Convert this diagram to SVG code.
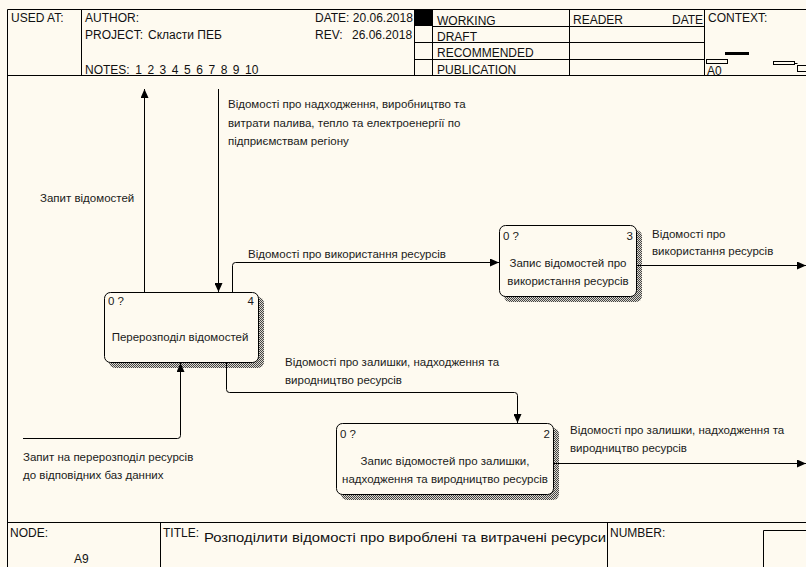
<svg xmlns="http://www.w3.org/2000/svg" width="806" height="567" viewBox="0 0 806 567">
  <style>
    .t { font-family: "Liberation Sans", Arial, sans-serif; font-size: 11.5px; fill: #1a1a1a; }
    .h { font-family: "Liberation Sans", Arial, sans-serif; font-size: 12px; fill: #111; }
    .ln { stroke: #000; stroke-width: 1; fill: none; }
    .box { fill: #fefaf0; stroke: #000; stroke-width: 1; }
    .sh { fill: url(#hatch); }
    .c { stroke: #000; stroke-width: 1; fill: none; }
  </style>
  <defs>
    <pattern id="hatch" width="2" height="2" patternUnits="userSpaceOnUse">
      <rect width="2" height="2" fill="#ddd9d0"/>
      <rect width="1" height="1" fill="#444"/>
      <rect x="1" y="1" width="1" height="1" fill="#444"/>
    </pattern>
    <marker id="arr" markerWidth="10" markerHeight="8" refX="9" refY="4" orient="auto" markerUnits="userSpaceOnUse">
      <path d="M0,0 L9,4 L0,8 Z" fill="#000"/>
    </marker>
  </defs>

  <rect width="806" height="567" fill="#fefaf0"/>

  <!-- frame -->
  <g id="frame">
    <path class="ln" d="M7.5,9.5 H806 M7.5,9.5 V567 M7.5,75.5 H806 M7.5,522.5 H806"/>
    <!-- header columns -->
    <path class="ln" d="M81.5,9.5 V75.5 M414.5,9.5 V75.5 M432.5,9.5 V75.5 M569.5,9.5 V75.5 M704.5,9.5 V75.5"/>
    <path class="ln" d="M432.5,26.5 H704.5 M414.5,42.5 H704.5 M414.5,59.5 H704.5"/>
    <rect x="415" y="10" width="17" height="16" fill="#000"/>
    <text class="h" x="11" y="22">USED AT:</text>
    <text class="h" x="85" y="22">AUTHOR:</text>
    <text class="h" x="85" y="39">PROJECT:</text>
    <text class="h" x="148" y="39">Скласти ПЕБ</text>
    <text class="h" x="85" y="74" word-spacing="2.2">NOTES: 1 2 3 4 5 6 7 8 9 10</text>
    <text class="h" x="315" y="22">DATE: 20.06.2018</text>
    <text class="h" x="315" y="39">REV:</text>
    <text class="h" x="352" y="39">26.06.2018</text>
    <text class="h" x="437" y="25">WORKING</text>
    <text class="h" x="437" y="41">DRAFT</text>
    <text class="h" x="437" y="57">RECOMMENDED</text>
    <text class="h" x="437" y="74">PUBLICATION</text>
    <text class="h" x="573" y="24">READER</text>
    <text class="h" x="672" y="24">DATE</text>
    <text class="h" x="708" y="22">CONTEXT:</text>
    <!-- context thumbnail -->
    <rect x="725" y="52" width="24" height="3" fill="#000"/>
    <rect x="706.5" y="59.5" width="21" height="4" fill="none" stroke="#000"/>
    <rect x="773.5" y="61.5" width="21" height="3" fill="none" stroke="#000"/>
    <path class="ln" d="M794.5,63.5 H797.5"/>
    <rect x="797.5" y="65.5" width="10" height="6" fill="none" stroke="#000"/>
    <text class="h" x="707" y="75" font-size="11">A0</text>
    <!-- footer -->
    <path class="ln" d="M160.5,522.5 V567 M607.5,522.5 V567"/>
    <path class="ln" d="M763.5,567 V530.5 H806"/>
    <text class="h" x="10" y="537" font-size="11">NODE:</text>
    <text class="h" x="74" y="563" font-size="14">A9</text>
    <text class="h" x="163" y="537" font-size="11">TITLE:</text>
    <text class="h" x="204" y="542" font-size="16" textLength="402" lengthAdjust="spacingAndGlyphs">Розподілити відомості про  вироблені та витрачені ресурси</text>
    <text class="h" x="610" y="537" font-size="11">NUMBER:</text>
  </g>

  <!-- node 4 -->
  <g id="node4">
    <rect class="sh" x="109" y="297" width="155" height="71" rx="6"/>
    <rect class="box" x="104.5" y="292.5" width="154" height="70" rx="6"/>
    <text class="t" x="108" y="305">0 ?</text>
    <text class="t" x="254" y="305" text-anchor="end">4</text>
    <text class="t" x="180" y="341" text-anchor="middle">Перерозподіл відомостей</text>
  </g>

  <!-- node 3 -->
  <g id="node3">
    <rect class="sh" x="504" y="230" width="138" height="72" rx="6"/>
    <rect class="box" x="499.5" y="225.5" width="137" height="71" rx="6"/>
    <text class="t" x="503" y="240">0 ?</text>
    <text class="t" x="633" y="240" text-anchor="end">3</text>
    <text class="t" x="568" y="267" text-anchor="middle">Запис відомостей про</text>
    <text class="t" x="568" y="285" text-anchor="middle">використання ресурсів</text>
  </g>

  <!-- node 2 -->
  <g id="node2">
    <rect class="sh" x="341" y="428" width="218" height="72" rx="6"/>
    <rect class="box" x="336.5" y="423.5" width="217" height="71" rx="6"/>
    <text class="t" x="340" y="438">0 ?</text>
    <text class="t" x="550" y="438" text-anchor="end">2</text>
    <text class="t" x="445" y="465" text-anchor="middle">Запис відомостей про залишки,</text>
    <text class="t" x="445" y="483" text-anchor="middle">надходження та виродництво ресурсів</text>
  </g>

  <!-- connectors -->
  <g id="connectors">
    <path class="c" d="M144.5,292 V89" marker-end="url(#arr)"/>
    <text class="t" x="40" y="202">Запит відомостей</text>

    <path class="c" d="M218.5,89 V292" marker-end="url(#arr)" stroke="#444"/>
    <text class="t" x="228" y="108">Відомості про надходження, виробництво та</text>
    <text class="t" x="228" y="127">витрати палива, тепло та електроенергії по</text>
    <text class="t" x="228" y="145">підприємствам регіону</text>

    <path class="c" d="M232.5,292 V265.5 Q232.5,262.5 235.5,262.5 H499" marker-end="url(#arr)"/>
    <text class="t" x="248" y="258">Відомості про використання ресурсів</text>

    <path class="c" d="M637,265.5 H806" marker-end="url(#arr)"/>
    <text class="t" x="652" y="238">Відомості про</text>
    <text class="t" x="652" y="255">використання ресурсів</text>

    <path class="c" d="M226.5,363 V389.5 Q226.5,392.5 229.5,392.5 H514.5 Q517.5,392.5 517.5,395.5 V423" marker-end="url(#arr)"/>
    <text class="t" x="285" y="366">Відомості про залишки, надходження та</text>
    <text class="t" x="285" y="384">виродництво ресурсів</text>

    <path class="c" d="M23,438.5 H177.5 Q180.5,438.5 180.5,435.5 V363" marker-end="url(#arr)"/>
    <text class="t" x="23" y="461">Запит на перерозподіл ресурсів</text>
    <text class="t" x="23" y="479">до відповідних баз данних</text>

    <path class="c" d="M554,463.5 H806" marker-end="url(#arr)"/>
    <text class="t" x="570" y="434">Відомості про залишки, надходження та</text>
    <text class="t" x="570" y="452">виродництво ресурсів</text>
  </g>
</svg>
